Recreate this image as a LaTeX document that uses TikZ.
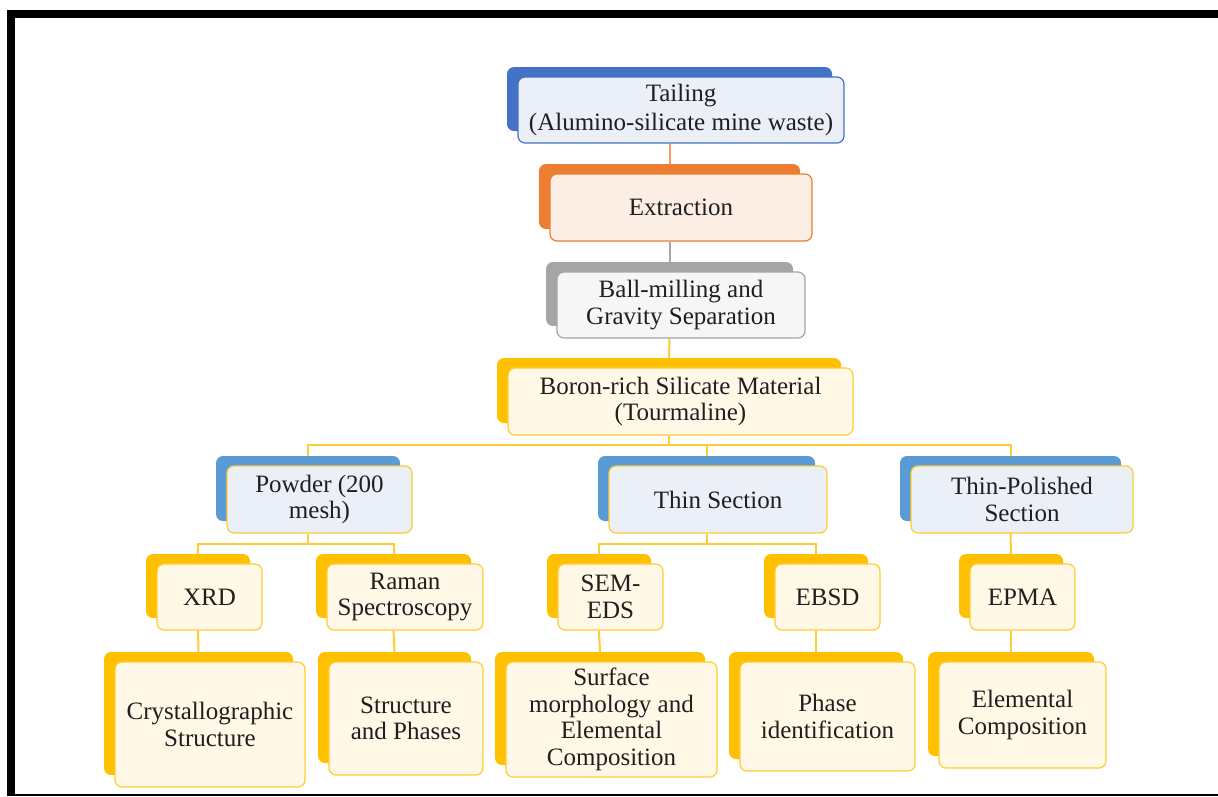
\documentclass[tikz,border=0pt]{standalone}
\usepackage{fontspec}
\setmainfont{Liberation Serif}
\usetikzlibrary{backgrounds}
\definecolor{bluedk}{HTML}{4472C4}
\definecolor{bluemd}{HTML}{5B9BD5}
\definecolor{bluefl}{HTML}{EAEFF8}
\definecolor{orng}{HTML}{ED7D31}
\definecolor{orngfl}{HTML}{FCEDE5}
\definecolor{gry}{HTML}{A5A5A5}
\definecolor{gryfl}{HTML}{F6F6F6}
\definecolor{gold}{HTML}{FFC000}
\definecolor{goldln}{HTML}{FFCC33}
\definecolor{cream}{HTML}{FFF8E6}
\tikzset{
  frontbox/.style={rounded corners=7pt, line width=1.2pt, align=center, inner sep=0pt,
    font=\fontsize{25pt}{26.5pt}\selectfont, text=black!88},
  backbox/.style={rounded corners=7pt, inner sep=0pt, draw=none},
  conn/.style={line width=2pt, draw=#1},
}
% name, cx, cy, w, h, back colour, fill colour, border colour, text
\newcommand\twobox[9]{%
  \node[frontbox, fill=#7, draw=#8, minimum width={#4pt}, minimum height={#5pt}] (#1) at (#2,#3) {#9};
  \begin{scope}[on background layer]
    \node[backbox, fill=#6, minimum width={#4pt-1pt}, minimum height={#5pt-2pt}] (#1B) at ([shift={(-11.5,-11)}]#1.center) {};
  \end{scope}}
\begin{document}
\begin{tikzpicture}[x=1pt,y=-1pt]
\useasboundingbox (0,0) rectangle (1218,796);
% frame
\fill[black] (7,9.5) rectangle (1218,17.5);
\fill[black] (7,9.5) rectangle (15.3,796);
\fill[black] (7,793.5) rectangle (1218,796);
% top chain
\twobox{tail}{681}{110}{326}{66}{bluedk}{bluefl}{bluedk}{Tailing\\[2.5pt](Alumino-silicate mine waste)}
\twobox{ext}{681}{207.5}{262}{67}{orng}{orngfl}{orng}{Extraction}
\twobox{ball}{681}{305}{248}{66}{gry}{gryfl}{gry}{Ball-milling and\\Gravity Separation}
\twobox{boron}{680.5}{401.5}{345}{67}{gold}{cream}{goldln}{Boron-rich Silicate Material\\(Tourmaline)}
% level 2
\twobox{powder}{319.5}{499.5}{185}{67}{bluemd}{bluefl}{goldln}{Powder (200\\mesh)}
\twobox{thin}{718}{499.5}{218}{67}{bluemd}{bluefl}{goldln}{Thin Section}
\twobox{tp}{1022}{499.5}{222}{67}{bluemd}{bluefl}{goldln}{Thin-Polished\\Section}
% level 3
\twobox{xrd}{209.5}{597}{105}{66}{gold}{cream}{goldln}{XRD}
\twobox{raman}{405}{597}{156}{66}{gold}{cream}{goldln}{Raman\\Spectroscopy}
\twobox{sem}{610.5}{597}{105}{66}{gold}{cream}{goldln}{SEM-\\EDS}
\twobox{ebsd}{827.5}{597}{105}{66}{gold}{cream}{goldln}{EBSD}
\twobox{epma}{1022.5}{597}{105}{66}{gold}{cream}{goldln}{EPMA}
% level 4
\twobox{cryst}{210}{724.5}{190}{125}{gold}{cream}{goldln}{Crystallographic\\Structure}
\twobox{sp}{406}{718.5}{154}{113}{gold}{cream}{goldln}{Structure\\and Phases}
\twobox{surf}{611.5}{719.5}{211}{115}{gold}{cream}{goldln}{Surface\\morphology and\\Elemental\\Composition}
\twobox{phase}{827.5}{716.5}{175}{109}{gold}{cream}{goldln}{Phase\\identification}
\twobox{elem}{1022.5}{715}{167}{106}{gold}{cream}{goldln}{Elemental\\Composition}
% connectors
\begin{scope}[on background layer]
\draw[conn=orng!75] (tailB.center |- tail.south) -- (extB.north);
\draw[conn=gry] (extB.center |- ext.south) -- (ballB.north);
\draw[conn=goldln] (ballB.center |- ball.south) -- (boronB.north);
\draw[conn=goldln] (boronB.center |- boron.south) -- ++(0,9) coordinate (j1);
\draw[conn=goldln] (powderB.north) |- (j1) -| (tpB.north);
\draw[conn=goldln] (thinB.north) -- (thinB.north |- j1);
\draw[conn=goldln] (powderB.center |- powder.south) -- ++(0,10) coordinate (j2);
\draw[conn=goldln] (xrdB.north) |- (j2) -| (ramanB.north);
\draw[conn=goldln] (thinB.center |- thin.south) -- ++(0,10) coordinate (j3);
\draw[conn=goldln] (semB.north) |- (j3) -| (ebsdB.north);
\draw[conn=goldln] (tpB.center |- tp.south) -- (epmaB.north);
\draw[conn=goldln] (xrdB.center |- xrd.south) -- (crystB.north);
\draw[conn=goldln] (ramanB.center |- raman.south) -- (spB.north);
\draw[conn=goldln] (semB.center |- sem.south) -- (surfB.north);
\draw[conn=goldln] (ebsdB.center |- ebsd.south) -- (phaseB.north);
\draw[conn=goldln] (epmaB.center |- epma.south) -- (elemB.north);
\end{scope}
\end{tikzpicture}
\end{document}
